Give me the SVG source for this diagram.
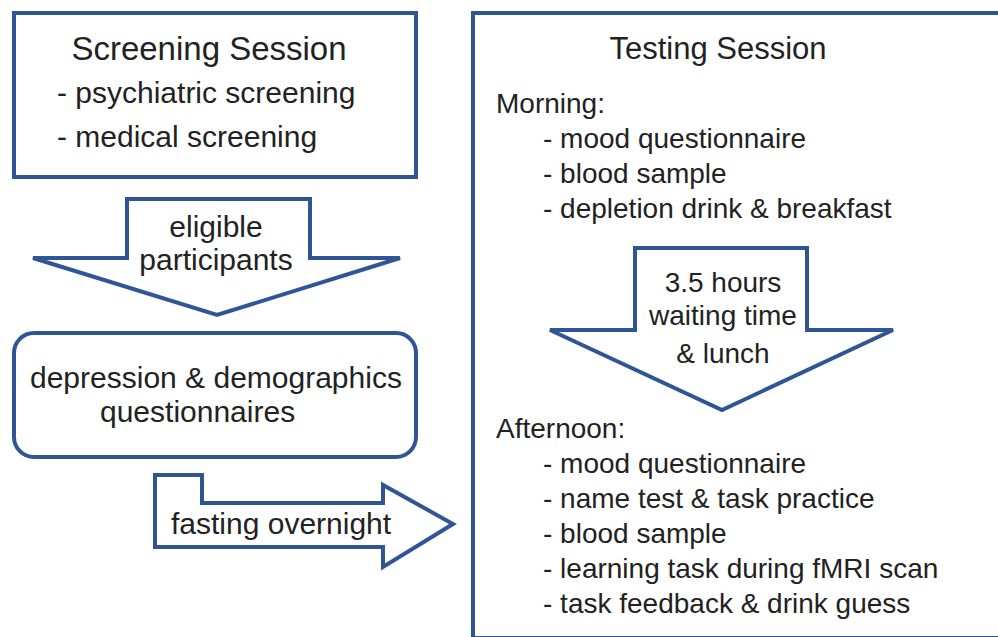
<svg xmlns="http://www.w3.org/2000/svg" width="998" height="637" viewBox="0 0 998 637">
<style>
.shape{fill:#ffffff;stroke:#2f5597;stroke-width:4;stroke-linejoin:miter}
text{font-family:"Liberation Sans",Arial,sans-serif;fill:#222222}
.t1{font-size:31px}
.l{font-size:30px}
.r{font-size:28px}
.c{text-anchor:middle}
</style>
<rect width="998" height="637" fill="#ffffff"/>
<g id="screening">
<rect class="shape" x="14" y="13" width="402" height="164"/>
<text class="t1 c" x="209" y="60" style="font-size:33px">Screening Session</text>
<text class="l" x="57" y="103">- psychiatric screening</text>
<text class="l" x="57" y="147">- medical screening</text>
</g>
<g id="questionnaires">
<rect class="shape" x="14" y="333" width="402" height="124" rx="20" ry="20"/>
<text class="l" x="30" y="388">depression &amp; demographics</text>
<text class="l" x="100" y="422">questionnaires</text>
</g>
<g id="testing">
<rect class="shape" x="473" y="13" width="540" height="625"/>
<text class="t1 c" x="718" y="59">Testing Session</text>
<text class="r" x="496" y="113">Morning:</text>
<text class="r" x="543" y="148">- mood questionnaire</text>
<text class="r" x="543" y="183">- blood sample</text>
<text class="r" x="543" y="218">- depletion drink &amp; breakfast</text>
<text class="r" x="496" y="438">Afternoon:</text>
<text class="r" x="543" y="473">- mood questionnaire</text>
<text class="r" x="543" y="508">- name test &amp; task practice</text>
<text class="r" x="543" y="543">- blood sample</text>
<text class="r" x="543" y="578">- learning task during fMRI scan</text>
<text class="r" x="543" y="613">- task feedback &amp; drink guess</text>
</g>
<g id="connectors">
<g id="arrow-eligible">
<polygon class="shape" points="127,199 310,199 310,258 400,258 217,315 33,258 127,258"/>
<text class="l c" x="216" y="237">eligible</text>
<text class="l c" x="216" y="270">participants</text>
</g>
<g id="arrow-fasting">
<polygon class="shape" points="155,475 202,475 202,503 383,503 383,485 453,524 383,567 383,547 155,547"/>
<text class="l" x="171" y="534">fasting overnight</text>
</g>
<g id="arrow-waiting">
<polygon class="shape" points="635,248 807,248 807,330 893,330 722,410 550,330 635,330"/>
<text class="r c" x="723" y="292">3.5 hours</text>
<text class="r c" x="723" y="325">waiting time</text>
<text class="r c" x="723" y="363">&amp; lunch</text>
</g>
</g>
</svg>
